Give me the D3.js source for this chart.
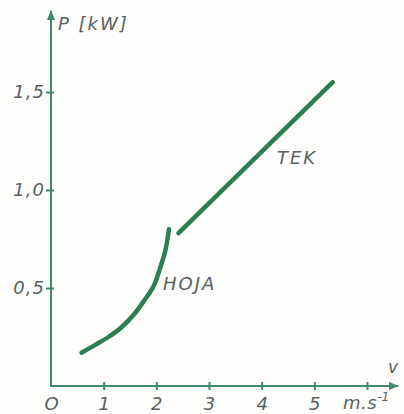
<!DOCTYPE html>
<html>
<head>
<meta charset="utf-8">
<script src="https://cdn.jsdelivr.net/npm/d3@7"></script>
<style>
  body { margin: 0; background: #fdfdfb; }
  text { font-family: "DejaVu Sans", sans-serif; font-style: italic; fill: #56625f; letter-spacing: 2px; }
</style>
</head>
<body>
<svg id="chart" width="404" height="414"></svg>
<script>
// speed v [m/s] vs power P [kW]
let hojaV = [0.58, 0.84, 1.09, 1.34, 1.59, 1.78, 1.95, 2.07, 2.17, 2.24]
let hojaP = [0.17, 0.21, 0.25, 0.30, 0.37, 0.44, 0.51, 0.60, 0.69, 0.80]
let tekV = [2.42, 5.35]
let tekP = [0.78, 1.55]
let xTicks = [0, 1, 2, 3, 4, 5, 6]
let yTicks = [0.5, 1.0, 1.5]

let svg = d3.select("#chart")
let axisColor = "#3f8b6b"
let lineColor = "#2b7e52"

let x = d3.scaleLinear()
    .domain([0, 6])
    .range([51, 367])

let y = d3.scaleLinear()
    .domain([0, 1.5])
    .range([386, 92])

// arrow heads
let defs = svg.append("defs")
defs.append("marker")
    .attr("id", "arrow")
    .attr("viewBox", "0 0 10 10")
    .attr("refX", 9)
    .attr("refY", 5)
    .attr("markerWidth", 10)
    .attr("markerHeight", 10)
    .attr("markerUnits", "userSpaceOnUse")
    .attr("orient", "auto")
  .append("path")
    .attr("d", "M0,1 L10,5 L0,9 Z")
    .style("fill", axisColor)

let xAxisSettings = d3.axisBottom(x)
    .tickValues(xTicks)
    .tickSize(0)
    .tickPadding(11)
    .tickFormat(d => d == 6 ? "" : d == 0 ? "O" : d)

let yAxisSettings = d3.axisLeft(y)
    .tickValues(yTicks)
    .tickSize(0)
    .tickPadding(6)
    .tickFormat(d => d.toFixed(1).replace(".", ","))

let xAxisTicks = svg.append("g")
    .attr("class", "x axis")
    .attr("transform", `translate(0,${y(0)})`)
    .call(xAxisSettings)

xAxisTicks.select(".domain").remove()
xAxisTicks.selectAll(".tick line")
    .filter(d => d > 0)
    .attr("y1", -4)
    .attr("y2", 4)
    .style("stroke", axisColor)
    .style("stroke-width", 2)
xAxisTicks.selectAll(".tick text")
    .style("font-size", "18px")
    .style("font-family", "DejaVu Sans")
    .style("letter-spacing", "0px")

let yAxisTicks = svg.append("g")
    .attr("class", "y axis")
    .attr("transform", `translate(${x(0)},0)`)
    .call(yAxisSettings)

yAxisTicks.select(".domain").remove()
yAxisTicks.selectAll(".tick line")
    .attr("x1", -5)
    .attr("x2", 3)
    .style("stroke", axisColor)
    .style("stroke-width", 2)
yAxisTicks.selectAll(".tick text")
    .style("font-size", "18px")
    .style("font-family", "DejaVu Sans")
    .style("letter-spacing", "1px")

// axis lines with arrows
svg.append("line")
    .attr("x1", x(0)).attr("y1", y(0))
    .attr("x2", 398).attr("y2", y(0))
    .style("stroke", axisColor)
    .style("stroke-width", 2)
    .attr("marker-end", "url(#arrow)")

svg.append("line")
    .attr("x1", x(0)).attr("y1", y(0) + 1)
    .attr("x2", x(0)).attr("y2", 11)
    .style("stroke", axisColor)
    .style("stroke-width", 2)
    .attr("marker-end", "url(#arrow)")

let line = d3.line()
    .x(d => x(d[0]))
    .y(d => y(d[1]))

let hoja = d3.zip(hojaV, hojaP)
let tek = d3.zip(tekV, tekP)

svg.append("path")
    .attr("d", line.curve(d3.curveCatmullRom.alpha(0.5))(hoja))
    .style("fill", "none")
    .style("stroke", lineColor)
    .style("stroke-width", 4.5)
    .style("stroke-linecap", "round")

svg.append("path")
    .attr("d", line.curve(d3.curveLinear)(tek))
    .style("fill", "none")
    .style("stroke", lineColor)
    .style("stroke-width", 4.5)
    .style("stroke-linecap", "round")

svg.append("text")
    .attr("x", 58)
    .attr("y", 30)
    .style("font-size", "18px")
    .text("P [kW]")

svg.append("text")
    .attr("x", 388)
    .attr("y", 373)
    .style("font-size", "17px")
    .text("v")

let unit = svg.append("text")
    .attr("x", 343)
    .attr("y", 409)
    .style("font-size", "18px")
    .style("letter-spacing", "0.5px")
    .text("m.s")
unit.append("tspan")
    .attr("dy", -8)
    .style("font-size", "12px")
    .style("letter-spacing", "0px")
    .text("-1")

svg.append("text")
    .attr("x", 277)
    .attr("y", 164)
    .style("font-size", "18px")
    .text("TEK")

svg.append("text")
    .attr("x", 163)
    .attr("y", 290)
    .style("font-size", "18px")
    .text("HOJA")
</script>
</body>
</html>
